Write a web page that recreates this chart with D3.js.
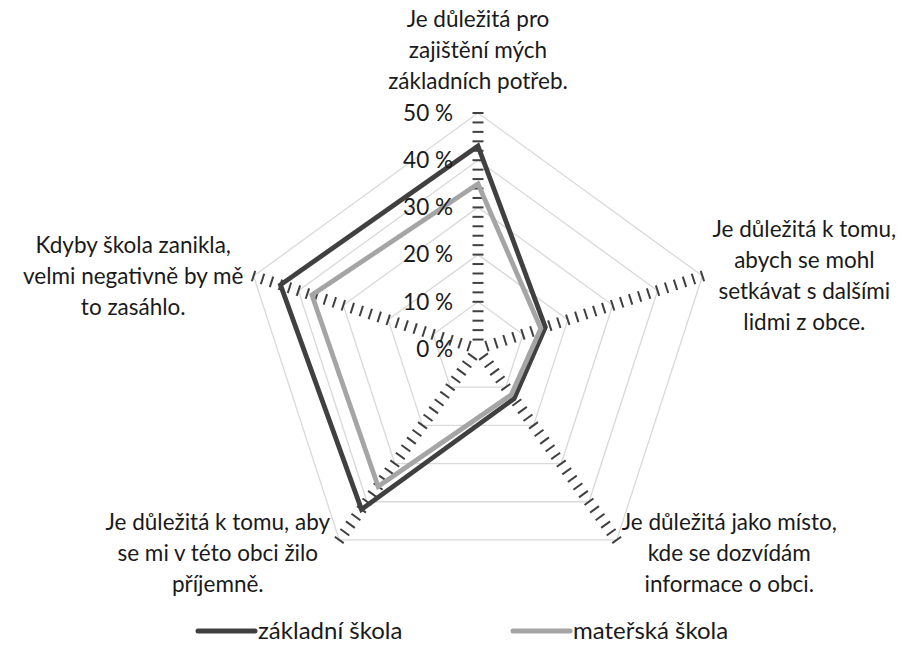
<!DOCTYPE html>
<html>
<head>
<meta charset="utf-8">
<script src="https://cdn.jsdelivr.net/npm/d3@7"></script>
<style>
  body { margin: 0; background: #fff; }
  svg text { font-family: Lato, "Open Sans", sans-serif; fill: #1a1a1a; }
  .grid { fill: none; stroke: #d9d9d9; stroke-width: 1.3; }
  .tick-mark { stroke: #404040; stroke-width: 2; }
</style>
</head>
<body>
<div id="radar-chart"></div>
<script>
// Data
var categories = [
  ["Je důležitá pro", "zajištění mých", "základních potřeb."],
  ["Je důležitá k tomu,", "abych se mohl", "setkávat s dalšími", "lidmi z obce."],
  ["Je důležitá jako místo,", "kde se dozvídám", "informace o obci."],
  ["Je důležitá k tomu, aby", "se mi v této obci žilo", "příjemně."],
  ["Kdyby škola zanikla,", "velmi negativně by mě", "to zasáhlo."]
];
var seriesNames = ["základní škola", "mateřská škola"];
var zakladniSkola = [43, 15, 13, 42, 44];
var materskaSkola = [35, 14, 12, 36, 37];
var tickValues = [0, 10, 20, 30, 40, 50];

var COLORS = ["#404040", "#a5a5a5"];
var FONT = "22.5px";

var renderRadar = function(config) {
  var width = 907, height = 653;
  var cx = 478, cy = 349, radius = 236;

  var svg = d3.select(config.container)
    .append("svg")
    .attr("width", width)
    .attr("height", height);

  var rScale = d3.scaleLinear().domain([0, 50]).range([0, radius]);
  var n = categories.length;
  var angle = function(i) { return (i * 2 * Math.PI) / n; };
  var point = function(i, v) {
    var a = angle(i);
    return [cx + rScale(v) * Math.sin(a), cy - rScale(v) * Math.cos(a)];
  };

  var chart = svg.append("g");

  // Grid rings
  var ringLine = d3.line().curve(d3.curveLinearClosed);
  chart.selectAll(".grid")
    .data(tickValues.slice(1))
    .enter()
    .append("path")
    .attr("class", "grid")
    .attr("d", function(v) {
      return ringLine(d3.range(n).map(function(i) { return point(i, v); }));
    });

  // Minor tick marks along each axis (every 2 %)
  var minor = d3.range(2, 51, 2);
  var half = 5.5;
  d3.range(n).forEach(function(i) {
    var a = angle(i);
    var px = Math.cos(a), py = Math.sin(a);
    chart.append("g")
      .selectAll("line")
      .data(minor)
      .enter()
      .append("line")
      .attr("class", "tick-mark")
      .attr("x1", function(v) { return point(i, v)[0] - half * px; })
      .attr("y1", function(v) { return point(i, v)[1] - half * py; })
      .attr("x2", function(v) { return point(i, v)[0] + half * px; })
      .attr("y2", function(v) { return point(i, v)[1] + half * py; });
  });

  // Series lines
  var seriesData = [zakladniSkola, materskaSkola];
  chart.selectAll(".series")
    .data(seriesData)
    .enter()
    .append("path")
    .attr("class", "series")
    .attr("fill", "none")
    .attr("stroke", function(d, i) { return COLORS[i]; })
    .attr("stroke-width", 4.8)
    .attr("stroke-linejoin", "miter")
    .attr("d", function(d) {
      return ringLine(d.map(function(v, i) { return point(i, v); }));
    });

  // Value axis labels
  chart.selectAll(".value-label")
    .data(tickValues)
    .enter()
    .append("text")
    .attr("class", "value-label")
    .attr("x", cx - 25)
    .attr("y", function(v) { return cy - rScale(v); })
    .attr("dy", "0.35em")
    .attr("text-anchor", "end")
    .style("font-size", FONT)
    .text(function(v) { return v + " %"; });

  // Category labels
  var lineH = 31;
  categories.forEach(function(lines, i) {
    var end = point(i, 50);
    var g = chart.append("g").attr("class", "cat-label");
    var t = g.append("text")
      .attr("text-anchor", "middle")
      .style("font-size", FONT);
    lines.forEach(function(l, k) {
      t.append("tspan").attr("x", 0).attr("y", k * lineH).attr("dy", "0.35em").text(l);
    });
    var bb = g.node().getBBox();
    var blockH = (lines.length - 1) * lineH;
    var s = Math.sin(angle(i)), c = Math.cos(angle(i));
    var tx, ty;
    if (i === 0) {
      tx = end[0];
      ty = end[1] - 32 - blockH;
    } else if (c > 0) {
      // upper side labels
      tx = end[0] + Math.sign(s) * (10 + bb.width / 2);
      ty = end[1] - blockH / 2;
    } else {
      // lower labels
      tx = end[0] + Math.sign(s) * ((s > 0 ? 5 : 9) + bb.width / 2);
      ty = end[1] - 18;
    }
    g.attr("transform", "translate(" + tx + "," + ty + ")");
  });

  // Legend
  var legendItems = [
    { name: seriesNames[0], x: 198 },
    { name: seriesNames[1], x: 513 }
  ];
  var legend = svg.append("g").attr("class", "legend");
  legendItems.forEach(function(d, i) {
    legend.append("line")
      .attr("x1", d.x).attr("x2", d.x + 57)
      .attr("y1", 631).attr("y2", 631)
      .attr("stroke", COLORS[i])
      .attr("stroke-width", 5)
      .attr("stroke-linecap", "round");
    legend.append("text")
      .attr("x", d.x + 60)
      .attr("y", 631)
      .attr("dy", "0.35em")
      .style("font-size", "24px")
      .text(d.name);
  });
};

renderRadar({ container: "#radar-chart" });
</script>
</body>
</html>
